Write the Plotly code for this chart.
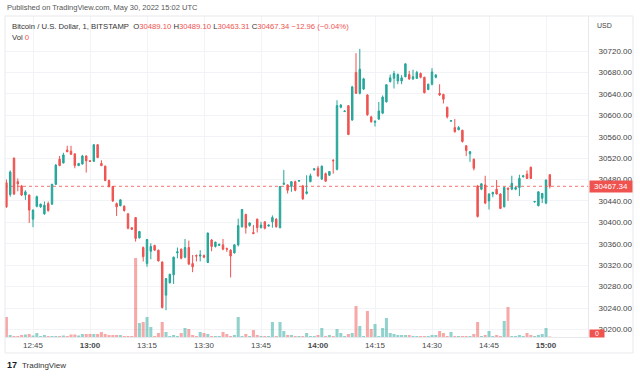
import pandas as pd
import plotly.graph_objects as go

# ---- data (1-minute candles, BTC/USD Bitstamp, 30 May 2022) ----
start_time = "2022-05-30 12:38"
opens = [30474,30452,30520,30476,30468,30451,30451,30406,30430,30429,30416,30435,30434,30471,30518,30511,30535,30533,30528,30506,
         30509,30524,30515,30514,30545,30510,30505,30478,30467,30435,30431,30430,30416,30390,30409,30371,30353,30323,30346,30357,
         30348,30326,30264,30287,30302,30343,30350,30335,30353,30323,30338,30337,30338,30325,30367,30355,30357,30358,30351,30348,
         30343,30358,30392,30415,30394,30381,30406,30390,30401,30393,30401,30406,30390,30471,30470,30467,30476,30477,30468,30454,
         30476,30498,30501,30481,30491,30488,30516,30499,30615,30607,30618,30591,30680,30641,30649,30638,30597,30587,30593,30604,
         30625,30663,30669,30664,30664,30672,30676,30668,30669,30678,30671,30648,30658,30671,30641,30639,30615,30589,30577,30573,
         30572,30543,30528,30518,30468,30462,30470,30440,30453,30462,30453,30429,30464,30462,30462,30465,30485,30490,30503,30438,
         30431,30445,30436,30489.10]
highs = [30480,30497,30521,30482,30470,30460,30452,30424,30450,30435,30439,30439,30472,30509,30524,30530,30543,30543,30528,30511,
         30526,30525,30516,30546,30546,30516,30506,30480,30468,30437,30443,30432,30417,30391,30410,30384,30355,30369,30361,30358,
         30349,30327,30296,30304,30336,30353,30351,30369,30366,30339,30340,30348,30340,30381,30369,30364,30360,30369,30353,30350,
         30359,30407,30425,30416,30400,30395,30407,30401,30402,30396,30413,30408,30468,30498,30471,30477,30478,30479,30470,30488,
         30491,30500,30505,30506,30493,30496,30518,30628,30621,30609,30619,30655,30716,30724,30670,30639,30599,30590,30625,30637,
         30658,30676,30683,30678,30675,30697,30683,30685,30683,30680,30672,30659,30688,30677,30658,30640,30616,30591,30593,30580,
         30573,30544,30533,30519,30470,30473,30487,30454,30457,30479,30454,30467,30465,30487,30467,30489,30487,30497,30504,30440,
         30458,30455,30480,30489.10]
lows = [30427,30448,30451,30458,30449,30442,30399,30391,30428,30427,30414,30420,30433,30470,30505,30510,30531,30526,30501,30505,
        30508,30493,30513,30514,30520,30505,30477,30465,30438,30412,30430,30420,30387,30386,30364,30370,30327,30317,30331,30347,
        30327,30239,30236,30286,30285,30333,30331,30333,30321,30307,30327,30327,30333,30324,30346,30353,30356,30348,30345,30297,
        30342,30355,30390,30379,30392,30378,30381,30389,30387,30392,30390,30390,30389,30470,30454,30457,30458,30476,30442,30452,
        30475,30497,30485,30479,30476,30487,30491,30497,30613,30606,30563,30590,30640,30639,30647,30599,30586,30579,30591,30602,
        30624,30661,30650,30658,30658,30671,30666,30666,30668,30669,30641,30647,30656,30669,30636,30622,30594,30588,30568,30572,
        30549,30524,30513,30497,30409,30460,30434,30424,30447,30452,30425,30428,30440,30460,30460,30449,30484,30481,30481,30437,
        30430,30436,30434,30463.31]
closes = [30429,30494,30453,30472,30451,30457,30423,30423,30448,30434,30432,30422,30471,30507,30506,30526,30532,30527,30506,30510,
          30524,30515,30514,30545,30521,30506,30478,30467,30440,30429,30442,30422,30389,30387,30370,30383,30336,30368,30355,30348,
          30328,30241,30295,30303,30335,30345,30333,30353,30322,30317,30337,30339,30335,30380,30355,30363,30359,30350,30350,30337,
          30358,30394,30424,30390,30399,30379,30390,30395,30389,30395,30409,30392,30467,30473,30460,30476,30460,30478,30444,30457,
          30487,30500,30487,30505,30477,30495,30515,30618,30619,30608,30564,30653,30641,30686,30668,30601,30588,30589,30608,30634,
          30657,30670,30678,30676,30670,30696,30668,30672,30680,30671,30642,30658,30681,30675,30638,30630,30597,30590,30569,30577,
          30551,30534,30532,30501,30411,30472,30436,30453,30456,30453,30426,30465,30462,30473,30465,30482,30487,30482,30482,30439,
          30457,30454,30479,30467.34]
volumes = [20,2,1,1,2,2.5,3,1.5,4,1,2,1,1,1,1,1.5,1,2.5,2.5,1.5,
           3,3,3,3,3,5,3,2,2,2,2,1,1,1,79,14,15,20,10,1,
           4,15,5,1,2,1,4,9,8,2,1,5,4,3,1,1,1,5,3,1,
           2,20,1,3,1,7,2,1,1,1,15,1,15,6,2,2,1,1,1,4,
           1,1,2,9,1,2,1,8,4,1,3,4,31,11,1,26,8,13,1,9,
           19,4,3,2,2,2,2,1,1,1,1,1,2,2,6,4,1,5,1,1,
           1,1,1,3,15,1,2,6,1,2,1,16,30,1,1,2,1,4,2,1,
           2,3,9,0.5]
time_ticks = ["12:45","13:00","13:15","13:30","13:45","14:00","14:15","14:30","14:45","15:00"]
price_ticks = [30200,30240,30280,30320,30360,30400,30440,30480,30520,30560,30600,30640,30680,30720]
last_price = 30467.34

times = pd.date_range(start_time, periods=len(opens), freq="min")

UP = "#26a69a"
DN = "#ef5350"
vol_colors = ["rgba(38,166,154,0.5)" if c >= o else "rgba(239,83,80,0.5)" for o, c in zip(opens, closes)]

# plot area in pixels
L, R, T, B = 5, 588, 16, 337
W, H = 640, 376
def px(x):
    return (x - L) / (R - L)
def py(y):
    return (B - y) / (B - T)

fig = go.Figure()
fig.add_trace(go.Bar(x=times, y=volumes, marker=dict(color=vol_colors, line=dict(width=0)),
                     yaxis="y2", hoverinfo="skip", showlegend=False))
fig.add_trace(go.Candlestick(x=times, open=opens, high=highs, low=lows, close=closes,
                             increasing=dict(line=dict(color=UP, width=1), fillcolor=UP),
                             decreasing=dict(line=dict(color=DN, width=1), fillcolor=DN),
                             whiskerwidth=0, hoverinfo="skip", showlegend=False))

base = pd.Timestamp("2022-05-30 12:45")
x0 = base + pd.Timedelta(minutes=-7.37)
x1 = base + pd.Timedelta(minutes=146.05)
tickvals = [pd.Timestamp("2022-05-30 " + t) for t in time_ticks]
ticktext = [("<b>%s</b>" % t) if t.endswith(":00") else t for t in time_ticks]

FONT = "Liberation Sans"
fig.update_layout(
    width=W, height=H,
    margin=dict(l=L, r=W - R, t=T, b=H - B),
    paper_bgcolor="white", plot_bgcolor="white",
    font=dict(family=FONT, size=8, color="#333"),
    bargap=0.2, boxgap=0.45,
    xaxis=dict(range=[x0, x1], type="date", tickvals=tickvals, ticktext=ticktext,
               showgrid=True, gridcolor="#f2f3f7", gridwidth=1,
               showline=True, linecolor="#e6e8ee", linewidth=1, zeroline=False,
               rangeslider=dict(visible=False), ticks="", ticklabelstandoff=0,
               tickfont=dict(size=8, color="#4a4a4a")),
    yaxis=dict(side="right", range=[30185.9, 30785.4], tickvals=price_ticks,
               ticktext=["%.2f" % v for v in price_ticks],
               showgrid=True, gridcolor="#f2f3f7", gridwidth=1, zeroline=False,
               showline=True, linecolor="#e6e8ee", linewidth=1,
               ticks="", ticklabelstandoff=8,
               tickfont=dict(size=8, color="#444")),
    yaxis2=dict(overlaying="y", range=[0, B - T], visible=False, fixedrange=True),
)

# last price dotted line
fig.add_shape(type="line", xref="paper", yref="y", x0=0, x1=1, y0=last_price, y1=last_price,
              line=dict(color=DN, width=1, dash="dot"), opacity=0.8)
# frame
fig.add_shape(type="rect", xref="paper", yref="paper", x0=px(5), x1=px(633), y0=py(353), y1=py(16),
              line=dict(color="#e8e9ec", width=1))

def text(x, y, s, size=7.5, color="#333", anchor="left", **kw):
    fig.add_annotation(x=px(x), y=py(y), xref="paper", yref="paper", text=s, showarrow=False,
                       xanchor=anchor, yanchor="middle", font=dict(size=size, color=color, family=FONT), **kw)

text(5, 7, "Published on TradingView.com, May 30, 2022 15:02 UTC", size=7.5, color="#555")
red = lambda s: '<span style="color:%s">%s</span>' % (DN, s)
header = ("Bitcoin / U.S. Dollar, 1, BITSTAMP&nbsp;&nbsp;O" + red("30489.10") + " H" + red("30489.10") +
          " L" + red("30463.31") + " C" + red("30467.34") + " " + red("\u221212.96 (\u22120.04%)"))
text(10, 26, header, size=7.7, color="#333")
text(10, 37, "Vol " + red("0"), size=7.7, color="#333")
text(595, 25, "USD", size=7, color="#444")
# last price label
fig.add_annotation(x=px(589), y=last_price, xref="paper", yref="y", text="30467.34", showarrow=False,
                   xanchor="left", yanchor="middle", bgcolor=DN, borderpad=1,
                   font=dict(size=8, color="white", family=FONT), width=40)
# volume label
fig.add_annotation(x=px(589), y=py(333), xref="paper", yref="paper", text="0", showarrow=False,
                   xanchor="left", yanchor="middle", bgcolor=DN, borderpad=0,
                   font=dict(size=7, color="white", family=FONT), width=14)
# TradingView logo
text(5, 365, "<b>17</b>", size=9, color="#131722")
text(20, 365, "TradingView", size=8, color="#333")

fig.write_html("out.html", config={"displayModeBar": False},
               post_script="document.body.style.margin='0px';")
